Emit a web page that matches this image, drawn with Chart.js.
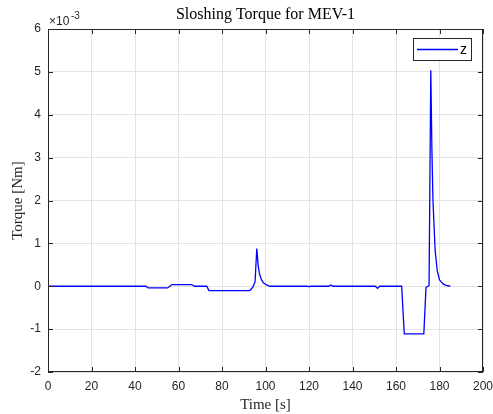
<!DOCTYPE html>
<html>
<head>
<meta charset="utf-8">
<script src="https://cdn.jsdelivr.net/npm/chart.js@4"></script>
<style>
  html, body { margin: 0; padding: 0; background: #fff; }
  #wrap { width: 493px; height: 414px; }
</style>
</head>
<body>
<div id="wrap"><canvas id="torque"></canvas></div>
<script>
// values, torque in units of 1e-3 Nm
const timeS = [0, 45, 46, 55, 57, 66, 67.5, 73, 74, 92.8, 94.2, 95.2, 96, 96.6, 97.2, 98, 99, 100.5, 102,
    119, 120, 121, 129, 130, 131, 150.5, 151.5, 152.5, 162.6, 163.8, 172.8, 173.8, 174.8, 175.2,
    176, 176.5, 177, 177.5, 178, 179, 180, 181.5, 183, 185];
const torqueZ = [0, 0, -0.04, -0.04, 0.04, 0.04, 0, 0, -0.1, -0.1, -0.02, 0.1, 0.88, 0.5, 0.3, 0.17, 0.08, 0.03, 0,
    0, -0.01, 0, 0, 0.03, 0, 0, -0.05, 0, 0, -1.11, -1.11, -0.02, 0, 0.02,
    5.04, 3.2, 2.0, 1.4, 0.83, 0.35, 0.15, 0.06, 0.02, 0];
const xTicks = [0, 20, 40, 60, 80, 100, 120, 140, 160, 180, 200];
const yTicks = [-2, -1, 0, 1, 2, 3, 4, 5, 6];
const seriesName = 'z';

const axisColor = '#262626';
const serif = "'Liberation Serif', 'DejaVu Serif', serif";
const sans = "'Liberation Sans', Arial, sans-serif";

const matlabFrame = {
    id: 'matlabFrame',
    afterDraw(chart) {
        const ctx = chart.ctx;
        const a = chart.chartArea;
        const xs = chart.scales.x, ys = chart.scales.y;
        ctx.save();
        ctx.strokeStyle = axisColor;
        ctx.lineWidth = 1;
        ctx.strokeRect(a.left + 0.5, a.top + 0.5, a.right - a.left - 1, a.bottom - a.top - 1);
        // inward ticks
        const len = 5;
        ctx.beginPath();
        xTicks.forEach(v => {
            const px = Math.round(xs.getPixelForValue(v)) + 0.5;
            ctx.moveTo(px, a.bottom); ctx.lineTo(px, a.bottom - len);
            ctx.moveTo(px, a.top); ctx.lineTo(px, a.top + len);
        });
        yTicks.forEach(v => {
            const py = Math.round(ys.getPixelForValue(v)) + 0.5;
            ctx.moveTo(a.left, py); ctx.lineTo(a.left + len, py);
            ctx.moveTo(a.right, py); ctx.lineTo(a.right - len, py);
        });
        ctx.stroke();

        // title
        ctx.fillStyle = '#000';
        ctx.font = '16px ' + serif;
        ctx.textAlign = 'center';
        ctx.textBaseline = 'middle';
        ctx.fillText('Sloshing Torque for MEV-1', (a.left + a.right) / 2, 15);

        // exponent
        ctx.fillStyle = axisColor;
        ctx.textAlign = 'left';
        ctx.textBaseline = 'alphabetic';
        ctx.font = '12px ' + sans;
        ctx.fillText('\u00d710', a.left + 1, 25);
        ctx.font = '10px ' + sans;
        ctx.fillText('-3', a.left + 23, 19);

        // legend
        const ds = chart.data.datasets[0];
        const bx = 413, by = 38, bw = 58, bh = 22;
        ctx.fillStyle = '#fff';
        ctx.fillRect(bx, by, bw, bh);
        ctx.strokeStyle = axisColor;
        ctx.strokeRect(bx + 0.5, by + 0.5, bw, bh);
        ctx.strokeStyle = ds.borderColor;
        ctx.lineWidth = 1.3;
        ctx.beginPath();
        ctx.moveTo(bx + 4, by + 11.5);
        ctx.lineTo(bx + 45, by + 11.5);
        ctx.stroke();
        ctx.fillStyle = '#000';
        ctx.font = '14px ' + sans;
        ctx.textBaseline = 'middle';
        ctx.fillText(ds.label, bx + 47, by + 12);
        ctx.restore();
    }
};

new Chart(document.getElementById('torque'), {
    type: 'line',
    data: {
        datasets: [{
            label: seriesName,
            data: timeS.map((t, i) => ({ x: t, y: torqueZ[i] })),
            borderColor: '#0000ff',
            borderWidth: 1.3,
            pointRadius: 0,
            tension: 0,
            fill: false
        }]
    },
    options: {
        responsive: true,
        maintainAspectRatio: false,
        animation: false,
        layout: { padding: { left: 0, right: 10, top: 29, bottom: 0 } },
        plugins: {
            legend: { display: false },
            tooltip: { enabled: false },
            title: { display: false }
        },
        scales: {
            x: {
                type: 'linear',
                min: 0,
                max: 200,
                afterFit: s => { s.height = 42; s.paddingLeft = 0; s.paddingRight = 0; },
                afterBuildTicks: s => { s.ticks = xTicks.map(v => ({ value: v })); },
                grid: { color: '#e3e3e3', drawTicks: false },
                border: { display: false },
                ticks: { color: axisColor, padding: 7, font: { family: sans, size: 12 }, maxRotation: 0 },
                title: { display: true, text: 'Time [s]', color: axisColor, padding: { top: 2, bottom: 0 },
                         font: { family: serif, size: 15 } }
            },
            y: {
                min: -2,
                max: 6,
                afterFit: s => { s.width = 48; s.paddingTop = 0; s.paddingBottom = 0; },
                afterBuildTicks: s => { s.ticks = yTicks.map(v => ({ value: v })); },
                grid: { color: '#e3e3e3', drawTicks: false },
                border: { display: false },
                ticks: { color: axisColor, padding: 7, font: { family: sans, size: 12 } },
                title: { display: true, text: 'Torque [Nm]', color: axisColor, padding: { top: 9, bottom: 0 },
                         font: { family: serif, size: 15 } }
            }
        }
    },
    plugins: [matlabFrame]
});
</script>
</body>
</html>
